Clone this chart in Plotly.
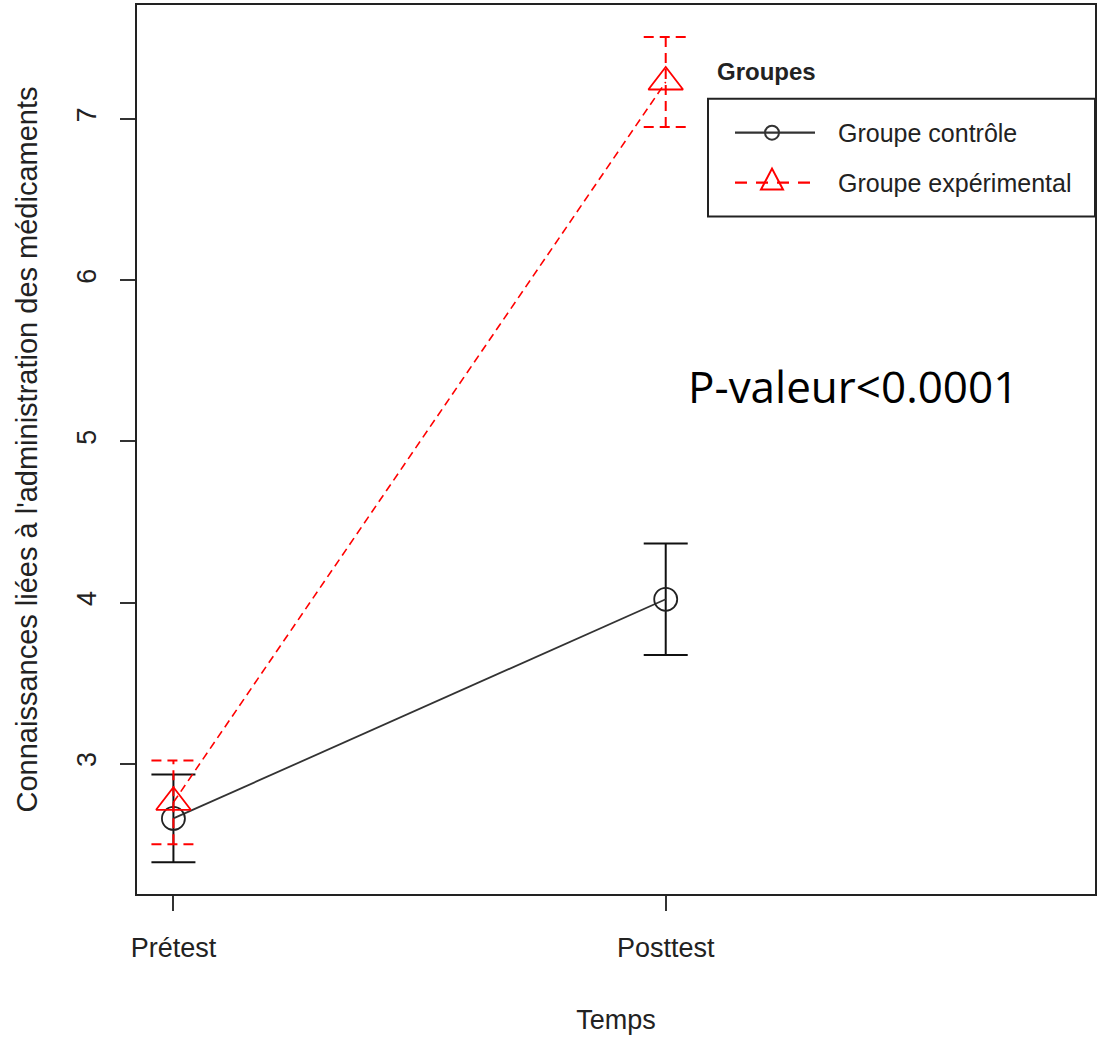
import plotly.graph_objects as go

# ---------------- data ----------------
categories = ["Prétest", "Posttest"]
groups = ["Groupe contrôle", "Groupe expérimental"]
control_mean = [2.66, 4.02]
control_err = [0.272, 0.346]
exp_mean = [2.76, 7.23]
exp_err = [0.26, 0.279]
y_ticks = [3, 4, 5, 6, 7]
pvalue_text = "P-valeur<0.0001"
legend_title = "Groupes"
x_title = "Temps"
y_title = "Connaissances liées à l'administration des médicaments"

x_pos = list(range(1, len(categories) + 1))

# ---------------- layout geometry ----------------
W, H = 1103, 1038
ML, MR, MT, MB = 137, 8, 3, 144
PW, PH = W - ML - MR, H - MT - MB
X_RANGE = [0.926, 2.872]
Y_RANGE = [2.191, 7.708]

def px_x(px):
    return (px - ML) / PW

def px_y(py):
    return (H - MB - py) / PH

cap_half = 22 / (PW / (X_RANGE[1] - X_RANGE[0]))

TXT = "#222222"
FONT = "Liberation Sans, Arial, sans-serif"

fig = go.Figure()

# control group: solid black line, open circles, solid error bars
fig.add_trace(go.Scatter(
    x=x_pos, y=control_mean, mode="lines+markers", name=groups[0],
    line=dict(color="#333333", width=1.8),
    marker=dict(symbol="circle-open", size=23, color="#222222", line=dict(width=1.8)),
    error_y=dict(type="data", array=control_err, visible=True, color="#111111",
                 thickness=2, width=22),
    showlegend=False,
))

# experimental group: dashed red line with open triangles
fig.add_trace(go.Scatter(
    x=x_pos, y=exp_mean, mode="lines+markers", name=groups[1],
    line=dict(color="#FF0000", width=1.6, dash="8px,5px"),
    marker=dict(symbol="triangle-up-open", size=30, color="#FF0000", line=dict(width=1.8)),
    showlegend=False,
))

# dashed error bars for the experimental group
ex, ey = [], []
for xv, m, e in zip(x_pos, exp_mean, exp_err):
    ex += [xv, xv, None, xv - cap_half, xv + cap_half, None, xv - cap_half, xv + cap_half, None]
    ey += [m - e, m + e, None, m + e, m + e, None, m - e, m - e, None]
fig.add_trace(go.Scatter(
    x=ex, y=ey, mode="lines", line=dict(color="#FF0000", width=2, dash="10px,6px"),
    hoverinfo="skip", showlegend=False,
))

# ---------------- manual legend (R style) ----------------
shapes = []
annotations = []
shapes.append(dict(type="rect", xref="paper", yref="paper",
                   x0=px_x(708), x1=px_x(1095), y0=px_y(215), y1=px_y(97),
                   line=dict(color="#222222", width=2)))
annotations.append(dict(text="<b>" + legend_title + "</b>", xref="paper", yref="paper",
                        x=px_x(715), y=px_y(70), xanchor="left", yanchor="middle",
                        showarrow=False, font=dict(family=FONT, size=24, color=TXT)))
# entry 1
ly1, ly2 = 131, 181
shapes.append(dict(type="line", xref="paper", yref="paper", x0=px_x(735), x1=px_x(815),
                   y0=px_y(ly1), y1=px_y(ly1), line=dict(color="#333333", width=2.2)))
shapes.append(dict(type="circle", xref="paper", yref="paper",
                   x0=px_x(772 - 7), x1=px_x(772 + 7), y0=px_y(ly1 + 7), y1=px_y(ly1 - 7),
                   line=dict(color="#333333", width=2), fillcolor="rgba(0,0,0,0)"))
annotations.append(dict(text=groups[0], xref="paper", yref="paper",
                        x=px_x(836), y=px_y(ly1), xanchor="left", yanchor="middle",
                        showarrow=False, font=dict(family=FONT, size=25, color=TXT)))
# entry 2
shapes.append(dict(type="line", xref="paper", yref="paper", x0=px_x(735), x1=px_x(815),
                   y0=px_y(ly2), y1=px_y(ly2), line=dict(color="#FF0000", width=2.2, dash="12px,9px")))
tri = "M {} {} L {} {} L {} {} Z".format(px_x(761), px_y(ly2 + 7), px_x(783), px_y(ly2 + 7),
                                         px_x(772), px_y(ly2 - 14))
shapes.append(dict(type="path", xref="paper", yref="paper", path=tri,
                   line=dict(color="#FF0000", width=2)))
annotations.append(dict(text=groups[1], xref="paper", yref="paper",
                        x=px_x(836), y=px_y(ly2), xanchor="left", yanchor="middle",
                        showarrow=False, font=dict(family=FONT, size=25, color=TXT)))

# p-value text
annotations.append(dict(text=pvalue_text, xref="paper", yref="paper",
                        x=px_x(686), y=px_y(385), xanchor="left", yanchor="middle",
                        showarrow=False, font=dict(family="Open Sans, sans-serif", size=44, color="#000000")))

fig.update_layout(
    width=W, height=H,
    margin=dict(l=ML, r=MR, t=MT, b=MB),
    paper_bgcolor="white", plot_bgcolor="white",
    shapes=shapes, annotations=annotations,
    font=dict(family=FONT, color=TXT),
    showlegend=False,
    xaxis=dict(
        range=X_RANGE, tickvals=x_pos, ticktext=categories,
        showgrid=False, zeroline=False,
        showline=True, mirror=True, linecolor="#222222", linewidth=2,
        ticks="outside", ticklen=15, tickwidth=1.5, tickcolor="#333333",
        ticklabelstandoff=14,
        tickfont=dict(family=FONT, size=27, color=TXT),
        title=dict(text=x_title, font=dict(family=FONT, size=27, color=TXT), standoff=48),
    ),
    yaxis=dict(
        range=Y_RANGE, tickvals=y_ticks,
        showgrid=False, zeroline=False,
        showline=True, mirror=True, linecolor="#222222", linewidth=2,
        ticks="outside", ticklen=15, tickwidth=1.5, tickcolor="#333333",
        tickangle=-90, ticklabelstandoff=13,
        tickfont=dict(family=FONT, size=27, color=TXT),
        title=dict(text=y_title, font=dict(family=FONT, size=29, color=TXT), standoff=26),
    ),
)

fig.write_html("out.html", config={"displayModeBar": False},
               post_script="document.body.style.margin='0';document.body.style.overflow='hidden';")
